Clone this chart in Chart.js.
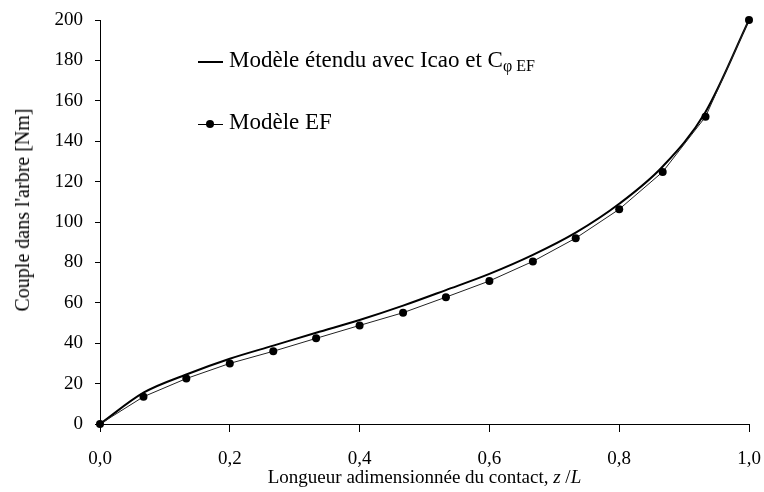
<!DOCTYPE html>
<html>
<head>
    <title>Couple dans l'arbre</title>
    <script src="https://cdn.jsdelivr.net/npm/chart.js"></script>
    <style>
        body { margin: 0; background: #fff; }
        #wrap { position: relative; width: 764px; height: 492px; font-family: "Liberation Serif", "Times New Roman", serif; color: #000; }
        #chart { position: absolute; left: 0; top: 0; }
        .leg { position: absolute; left: 198px; font-size: 23px; line-height: 1; white-space: nowrap; }
        .leg .sym { display: inline-block; position: relative; width: 25px; height: 10px; margin-right: 6px; vertical-align: middle; }
        .leg .line2 { position: absolute; left: 0; right: 0; top: 4px; border-top: 2px solid #000; }
        .leg .line1 { position: absolute; left: 0; right: 0; top: 5px; border-top: 1px solid #000; }
        .leg .dot { position: absolute; left: 8px; top: 1px; width: 8px; height: 8px; border-radius: 50%; background: #000; }
        .leg sub { font-size: 16px; vertical-align: -4px; }
        #xtitle { position: absolute; left: 100px; width: 649px; top: 467px; text-align: center; font-size: 19px; line-height: 1; white-space: nowrap; }
        #ytitle { position: absolute; left: 22px; top: 210px; font-size: 20px; line-height: 1; white-space: nowrap; transform: translate(-50%, -50%) rotate(-90deg); }
    </style>
</head>
<body>
<div id="wrap">
    <canvas id="chart" width="764" height="492"></canvas>
    <div class="leg" style="top:48px"><span class="sym"><span class="line2"></span></span>Modèle étendu avec Icao et C<sub>φ EF</sub></div>
    <div class="leg" style="top:110px"><span class="sym"><span class="line1"></span><span class="dot"></span></span>Modèle EF</div>
    <div id="ytitle">Couple dans l'arbre [Nm]</div>
    <div id="xtitle">Longueur adimensionnée du contact, <i>z</i> /<i>L</i></div>
</div>
<script>
    // positions le long du contact (z/L)
    const zL = [0, 0.067, 0.133, 0.2, 0.267, 0.333, 0.4, 0.467, 0.533, 0.6, 0.667, 0.733, 0.8, 0.867, 0.933, 1];
    const coupleModele = [0, 15.5, 24.5, 32.3, 38.8, 45.2, 51.5, 58.6, 66.3, 74.3, 83.7, 94.7, 109, 127.5, 154.5, 200];
    const coupleEF = [0, 13.5, 22.5, 30, 36, 42.4, 48.8, 55.1, 62.8, 70.8, 80.5, 92, 106.3, 124.8, 152.1, 200];
    const yTicks = [0, 20, 40, 60, 80, 100, 120, 140, 160, 180, 200];
    const xTicks = [0, 0.2, 0.4, 0.6, 0.8, 1.0];

    const serif = "'Liberation Serif', 'Times New Roman', serif";

    function pts(ys) {
        return zL.map((x, i) => ({ x: x, y: ys[i] }));
    }

    new Chart(document.getElementById("chart"), {
        type: "line",
        data: {
            datasets: [
                {
                    label: "Modèle étendu avec Icao et Cφ EF",
                    data: pts(coupleModele),
                    borderColor: "#000",
                    borderWidth: 2,
                    pointRadius: 0,
                    cubicInterpolationMode: "monotone",
                    clip: false,
                    order: 2
                },
                {
                    label: "Modèle EF",
                    data: pts(coupleEF),
                    borderColor: "#222",
                    borderWidth: 1,
                    pointRadius: 4,
                    pointBackgroundColor: "#000",
                    pointBorderColor: "#000",
                    pointBorderWidth: 0,
                    tension: 0,
                    clip: false,
                    order: 1
                }
            ]
        },
        options: {
            responsive: false,
            animation: false,
            layout: { padding: { top: 20, right: 15, left: 0, bottom: 0 } },
            plugins: { legend: { display: false }, tooltip: { enabled: false } },
            scales: {
                x: {
                    type: "linear",
                    min: 0,
                    max: 1,
                    afterFit: s => { s.height = 68; s.paddingLeft = 0; s.paddingRight = 0; },
                    afterBuildTicks: s => { s.ticks = xTicks.map(v => ({ value: v })); },
                    border: { display: true, color: "#000", width: 1 },
                    grid: { display: true, drawOnChartArea: false, drawTicks: true, tickLength: 8, color: "#000" },
                    ticks: {
                        color: "#000",
                        padding: 16,
                        maxRotation: 0,
                        font: { family: serif, size: 19 },
                        callback: v => v.toFixed(1).replace(".", ",")
                    }
                },
                y: {
                    min: 0,
                    max: 200,
                    afterFit: s => { s.width = 100; s.paddingTop = 0; s.paddingBottom = 0; },
                    afterBuildTicks: s => { s.ticks = yTicks.map(v => ({ value: v })); },
                    border: { display: true, color: "#000", width: 1 },
                    grid: { display: true, drawOnChartArea: false, drawTicks: true, tickLength: 5, color: "#000" },
                    ticks: {
                        color: "#000",
                        padding: 12,
                        font: { family: serif, size: 19 }
                    }
                }
            }
        }
    });
</script>
</body>
</html>
